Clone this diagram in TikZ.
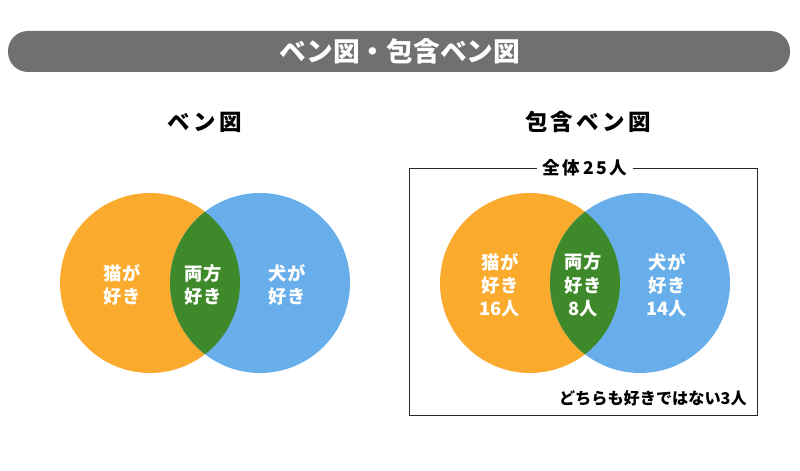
\documentclass[tikz,border=0pt]{standalone}
\usepackage{fontspec}
\setmainfont{Noto Sans CJK JP}
\newfontfamily\widefont{Noto Sans CJK JP}[LetterSpace=15]
\usetikzlibrary{positioning,calc}
\definecolor{catorange}{RGB}{250,170,45}
\definecolor{dogblue}{RGB}{104,174,234}
\definecolor{bothgreen}{RGB}{62,138,42}
\definecolor{bargray}{RGB}{112,112,112}
\def\vennradius{2.25cm}
\def\venndist{2.75cm}

\tikzset{
  venn label/.style={text=white, font=\bfseries\fontsize{13}{16.5}\selectfont, align=center, inner sep=0pt},
  head label/.style={font=\widefont\bfseries\fontsize{16}{18}\selectfont},
}

\begin{document}
\begin{tikzpicture}
  \useasboundingbox (0,0) rectangle (20,11.775);

  % title bar
  \fill[bargray, rounded corners=0.5cm] (0.2,9.975) rectangle (19.75,11.0);
  \node[text=white, font=\bfseries\fontsize{19}{22}\selectfont] (title) at (10,10.49) {ベン図・包含ベン図};

  \node[head label] (venn-head) at (5.125,8.725) {ベン図};
  \node[head label] (incl-head) at (14.7,8.725) {包含ベン図};

  % left venn
  \coordinate (LCat) at (3.75,4.7);
  \coordinate (LDog) at ($ (LCat) + (\venndist,0) $);
  \fill[catorange] (LCat) circle (\vennradius);
  \fill[dogblue] (LDog) circle (\vennradius);
  \begin{scope}
    \clip (LCat) circle (\vennradius);
    \fill[bothgreen] (LDog) circle (\vennradius);
  \end{scope}

  \node[venn label] (L-cat) at (3.05,4.65) {猫が\\好き};
  \node[venn label] (L-both) at (5.075,4.65) {両方\\好き};
  \node[venn label] (L-dog) at (7.175,4.65) {犬が\\好き};

  % right venn with frame
  \draw[black!85] (10.225,1.4) rectangle (18.925,7.575);
  \node[fill=white, font=\widefont\bfseries\fontsize{12.5}{14}\selectfont, inner xsep=4pt] (total) at (14.625,7.575) {全体25人};

  \coordinate (RCat) at (13.25,4.7);
  \coordinate (RDog) at ($ (RCat) + (\venndist,0) $);
  \fill[catorange] (RCat) circle (\vennradius);
  \fill[dogblue] (RDog) circle (\vennradius);
  \begin{scope}
    \clip (RCat) circle (\vennradius);
    \fill[bothgreen] (RDog) circle (\vennradius);
  \end{scope}

  \node[venn label] (R-cat) at (12.5,4.65) {猫が\\好き\\16人};
  \node[venn label] (R-both) at (14.575,4.65) {両方\\好き\\8人};
  \node[venn label] (R-dog) at (16.675,4.65) {犬が\\好き\\14人};

  \node[anchor=east, font=\bfseries\fontsize{11.5}{14}\selectfont, inner sep=0pt] (neither) at (18.675,1.825) {どちらも好きではない3人};

\end{tikzpicture}
\end{document}
